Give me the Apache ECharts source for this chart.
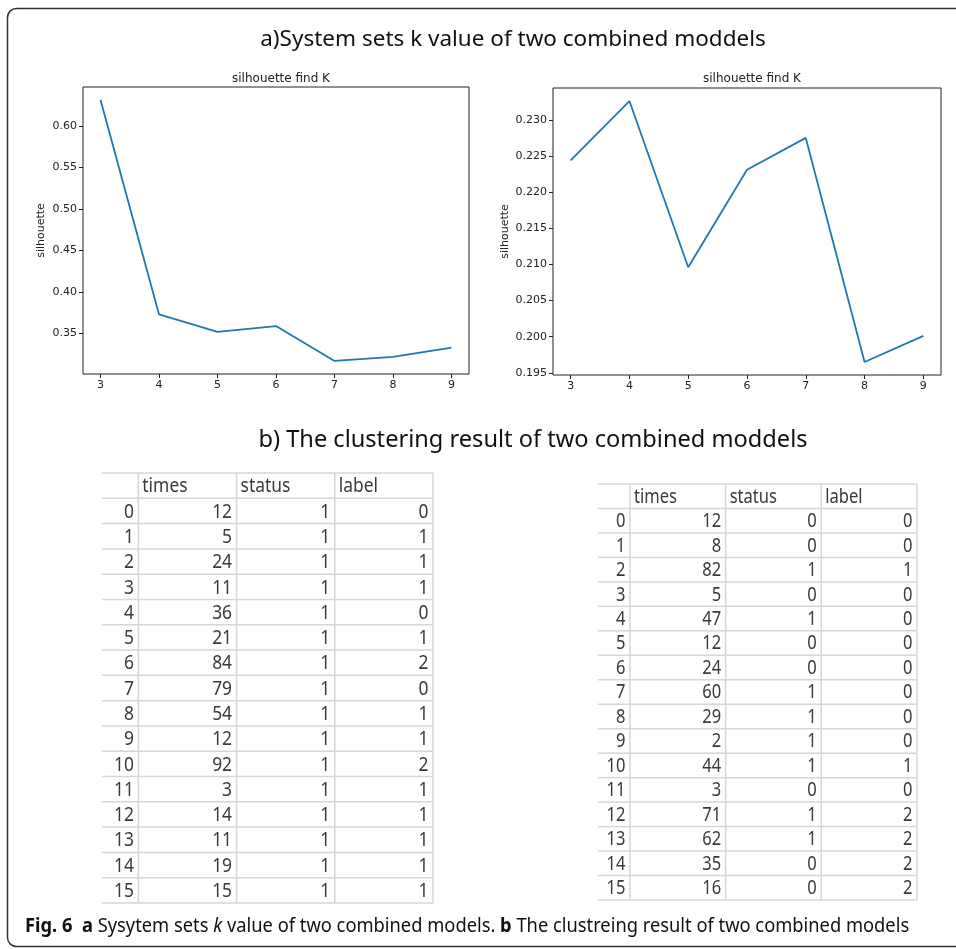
<!DOCTYPE html>
<html><head><meta charset="utf-8">
<script src="https://cdn.jsdelivr.net/npm/echarts@6/dist/echarts.min.js"></script>
<style>html,body{margin:0;padding:0;background:#fff}#c{width:956px;height:949px}</style>
</head><body><div id="c"></div>
<script>
// ---- data ----
const kValues = [3, 4, 5, 6, 7, 8, 9];
const silhouetteA = [0.631, 0.373, 0.352, 0.359, 0.317, 0.322, 0.333];
const silhouetteB = [0.2244, 0.2326, 0.2096, 0.2231, 0.2275, 0.1965, 0.2001];
const yTicksA = [0.35, 0.40, 0.45, 0.50, 0.55, 0.60];
const yTicksB = [0.195, 0.200, 0.205, 0.210, 0.215, 0.220, 0.225, 0.230];
const tableColumns = ['times', 'status', 'label'];
const rowIndex = [0, 1, 2, 3, 4, 5, 6, 7, 8, 9, 10, 11, 12, 13, 14, 15];
const timesA = [12, 5, 24, 11, 36, 21, 84, 79, 54, 12, 92, 3, 14, 11, 19, 15];
const statusA = [1, 1, 1, 1, 1, 1, 1, 1, 1, 1, 1, 1, 1, 1, 1, 1];
const labelA = [0, 1, 1, 1, 0, 1, 2, 0, 1, 1, 2, 1, 1, 1, 1, 1];
const timesB = [12, 8, 82, 5, 47, 12, 24, 60, 29, 2, 44, 3, 71, 62, 35, 16];
const statusB = [0, 0, 1, 0, 1, 0, 0, 1, 1, 1, 1, 0, 1, 1, 0, 0];
const labelB = [0, 0, 1, 0, 0, 0, 0, 0, 0, 0, 1, 0, 2, 2, 2, 2];

// ---- helpers ----
function limits(arr) {
  const mn = Math.min(...arr), mx = Math.max(...arr), d = (mx - mn) * 0.05;
  return [mn - d, mx + d];
}
const sansFont = "'Noto Sans','Open Sans',sans-serif";
const mplFont = "'DejaVu Sans',sans-serif";
const tableFont = "'Noto Sans','Liberation Sans',sans-serif";

function lineAxes(gi, yData, yTicks, digits, nameGap) {
  const xl = limits(kValues), yl = limits(yData);
  const x = {
    type: 'value', gridIndex: gi, min: xl[0], max: xl[1],
    axisLine: { show: false, onZero: false },
    axisTick: { show: true, customValues: kValues, length: 4, lineStyle: { color: '#222', width: 1 } },
    axisLabel: { customValues: kValues, fontSize: 11, color: '#222', margin: 6, fontFamily: mplFont },
    splitLine: { show: false }
  };
  const y = {
    type: 'value', gridIndex: gi, min: yl[0], max: yl[1],
    axisLine: { show: false, onZero: false },
    axisTick: { show: true, customValues: yTicks, length: 4, lineStyle: { color: '#222', width: 1 } },
    axisLabel: { customValues: yTicks, fontSize: 11, color: '#222', margin: 6, fontFamily: mplFont,
      formatter: v => v.toFixed(digits) },
    splitLine: { show: false },
    name: 'silhouette', nameLocation: 'middle', nameRotate: 90, nameGap: nameGap,
    nameTextStyle: { fontSize: 11, color: '#222', fontFamily: mplFont }
  };
  return [x, y];
}

function tableSeries(xi, times, status, label, fontSize, indexMin) {
  const cells = [];
  cells.push([-1, -1, '', 'i']);
  tableColumns.forEach((c, ci) => cells.push([ci, -1, c, 'h']));
  rowIndex.forEach((r, ri) => {
    cells.push([-1, r, String(r), 'n']);
    cells.push([0, r, String(times[ri]), 'n']);
    cells.push([1, r, String(status[ri]), 'n']);
    cells.push([2, r, String(label[ri]), 'n']);
  });
  return {
    type: 'custom', coordinateSystem: 'cartesian2d', xAxisIndex: xi, yAxisIndex: xi,
    silent: true, clip: false, animation: false,
    encode: { x: 0, y: 1 },
    data: cells.map(c => [c[0], c[1]]),
    renderItem: function (params, api) {
      const cell = cells[params.dataIndex];
      const c = cell[0], r = cell[1];
      const x0v = c === -1 ? indexMin : c, x1v = c === -1 ? 0 : c + 1;
      const p0 = api.coord([x0v, r]), p1 = api.coord([x1v, r + 1]);
      const stroke = '#d6d6d6';
      const children = [
        { type: 'line', shape: { x1: p0[0], y1: p1[1], x2: p1[0], y2: p1[1] }, style: { stroke, lineWidth: 1.5 } },
        { type: 'line', shape: { x1: p1[0], y1: p0[1], x2: p1[0], y2: p1[1] }, style: { stroke, lineWidth: 1.5 } }
      ];
      if (r === -1) children.push({ type: 'line', shape: { x1: p0[0], y1: p0[1], x2: p1[0], y2: p0[1] }, style: { stroke, lineWidth: 1.5 } });
      const cy = (p0[1] + p1[1]) / 2;
      if (cell[2] !== '') {
        const isHeader = cell[3] === 'h';
        children.push({
          type: 'text',
          x: isHeader ? p0[0] + 4 : p1[0] - 4.5, y: cy + 1, scaleX: 0.87,
          style: { text: cell[2], fill: '#3a3a3a', fontSize: fontSize, fontFamily: tableFont,
            align: isHeader ? 'left' : 'right', verticalAlign: 'middle' }
        });
      }
      return { type: 'group', children };
    }
  };
}

const axA = lineAxes(0, silhouetteA, yTicksA, 2, 36);
const axB = lineAxes(1, silhouetteB, yTicksB, 3, 42);

const tableAxes = (gi, min, ymax) => [
  { type: 'value', gridIndex: gi, min: min, max: 3, show: false },
  { type: 'value', gridIndex: gi, min: -1, max: ymax, inverse: true, show: false }
];
const tA = tableAxes(2, -0.37, 16), tB = tableAxes(3, -0.334, 16);

const chart = echarts.init(document.getElementById('c'), null, { renderer: 'canvas' });
chart.setOption({
  animation: false,
  backgroundColor: '#fff',
  graphic: [
    { type: 'rect', silent: true,
      shape: { x: 7.5, y: 8.5, width: 1000, height: 938, r: 9 },
      style: { fill: 'none', stroke: '#333', lineWidth: 1.5 } },
    { type: 'text', silent: true, x: 513, y: 40,
      style: { text: 'a)System sets k value of two combined moddels', fill: '#111',
        fontSize: 22.5, fontFamily: sansFont, align: 'center', verticalAlign: 'middle' } },
    { type: 'text', silent: true, x: 533, y: 440,
      style: { text: 'b) The clustering result of two combined moddels', fill: '#111',
        fontSize: 23.6, fontFamily: sansFont, align: 'center', verticalAlign: 'middle' } },
    { type: 'text', silent: true, x: 25, y: 926, scaleX: 0.915,
      style: { text: '{b|Fig. 6}  {b|a} Sysytem sets {i|k} value of two combined models. {b|b} The clustreing result of two combined models',
        fill: '#111', fontSize: 20, fontFamily: sansFont, align: 'left', verticalAlign: 'middle',
        rich: {
          b: { fontSize: 20, fontWeight: 'bold', fill: '#111', fontFamily: sansFont },
          i: { fontSize: 20, fontStyle: 'italic', fill: '#111', fontFamily: sansFont }
        } } }
  ],
  title: [
    { text: 'silhouette find K', left: 276, top: 68, textAlign: 'center',
      textStyle: { fontSize: 12, fontWeight: 'normal', color: '#222', fontFamily: mplFont } },
    { text: 'silhouette find K', left: 747, top: 68, textAlign: 'center',
      textStyle: { fontSize: 12, fontWeight: 'normal', color: '#222', fontFamily: mplFont } }
  ],
  grid: [
    { left: 83, top: 87, width: 386, height: 287, show: true, borderColor: '#222', borderWidth: 1, backgroundColor: 'transparent' },
    { left: 553, top: 88, width: 388, height: 287, show: true, borderColor: '#222', borderWidth: 1, backgroundColor: 'transparent' },
    { left: 102, top: 473, width: 331, height: 430 },
    { left: 598, top: 484, width: 319, height: 416 }
  ],
  xAxis: [axA[0], axB[0], tA[0], tB[0]],
  yAxis: [axA[1], axB[1], tA[1], tB[1]],
  series: [
    { type: 'line', xAxisIndex: 0, yAxisIndex: 0, data: kValues.map((k, i) => [k, silhouetteA[i]]),
      showSymbol: false, lineStyle: { color: '#1f77b4', width: 1.8 }, silent: true },
    { type: 'line', xAxisIndex: 1, yAxisIndex: 1, data: kValues.map((k, i) => [k, silhouetteB[i]]),
      showSymbol: false, lineStyle: { color: '#1f77b4', width: 1.8 }, silent: true },
    tableSeries(2, timesA, statusA, labelA, 20, -0.37),
    tableSeries(3, timesB, statusB, labelB, 19, -0.334)
  ]
});
</script></body></html>
